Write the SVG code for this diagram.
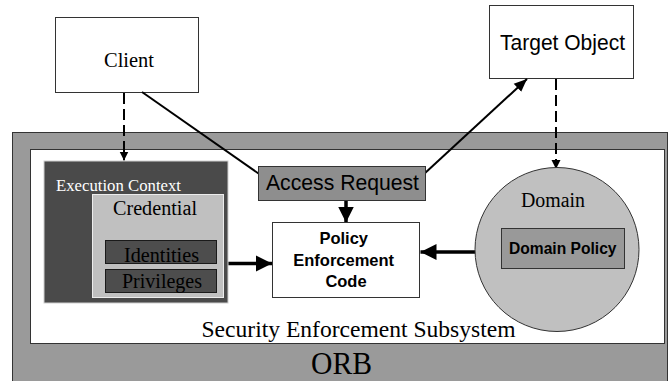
<svg xmlns="http://www.w3.org/2000/svg" width="668" height="381" viewBox="0 0 668 381">
  <style>
    .box { stroke: #333; stroke-width: 1; }
    .serif { font-family: "Liberation Serif", "Times New Roman", serif; }
    .sans { font-family: "Liberation Sans", Arial, sans-serif; }
    .bold { font-weight: bold; }
    .thin { stroke: #000; stroke-width: 2; fill: none; }
    .thick { stroke: #000; stroke-width: 3.5; fill: none; }
    .dash { stroke: #000; stroke-width: 2; fill: none; stroke-dasharray: 11 5; }
  </style>
  <defs>
    <marker id="headSmall" markerUnits="userSpaceOnUse" markerWidth="10" markerHeight="10" refX="9" refY="5" orient="auto">
      <path d="M0,0.5 L9,5 L0,9.5 Z" fill="#000"/>
    </marker>
    <marker id="headMid" markerUnits="userSpaceOnUse" markerWidth="14" markerHeight="12" refX="13" refY="6" orient="auto">
      <path d="M0,0.5 L13,6 L0,11.5 Z" fill="#000"/>
    </marker>
    <marker id="headBig" markerUnits="userSpaceOnUse" markerWidth="17" markerHeight="18" refX="16" refY="9" orient="auto">
      <path d="M0,1 L16,9 L0,17 Z" fill="#000"/>
    </marker>
  </defs>

  <rect width="668" height="381" fill="#fff"/>

  <!-- ORB layer -->
  <g id="orb">
    <rect x="12.5" y="132.5" width="655" height="250" fill="#9a9a9a" class="box"/>
    <text x="311" y="374" class="serif" font-size="31" textLength="61" lengthAdjust="spacingAndGlyphs" fill="#000">ORB</text>
  </g>

  <!-- Security Enforcement Subsystem -->
  <g id="subsystem">
    <rect x="30.5" y="149.5" width="634" height="194" fill="#fff" class="box"/>
    <text x="201.5" y="336.5" class="serif" font-size="24" textLength="314" lengthAdjust="spacingAndGlyphs" fill="#000">Security Enforcement Subsystem</text>
  </g>

  <!-- Client -->
  <g id="client">
    <rect x="55.5" y="17.5" width="143" height="75" fill="#fff" class="box"/>
    <text x="104" y="67" class="serif" font-size="20.5" textLength="50" lengthAdjust="spacingAndGlyphs" fill="#000">Client</text>
  </g>

  <!-- Target Object -->
  <g id="target">
    <rect x="489.5" y="5.5" width="144" height="73" fill="#fff" class="box"/>
    <text x="500" y="49.5" class="sans" font-size="22" textLength="125" lengthAdjust="spacingAndGlyphs" fill="#000">Target Object</text>
  </g>

  <!-- Connectors -->
  <g id="connectors">
    <line x1="124" y1="93" x2="124" y2="160.5" class="dash" marker-end="url(#headSmall)"/>
    <line x1="556" y1="79" x2="556" y2="169" class="dash" marker-end="url(#headSmall)"/>
    <line x1="142" y1="92" x2="262" y2="176" class="thin"/>
    <line x1="424" y1="174" x2="527" y2="79" class="thin" marker-end="url(#headMid)"/>
    <line x1="346" y1="201" x2="346" y2="222.5" class="thick" marker-end="url(#headBig)"/>
    <line x1="217" y1="263.5" x2="272" y2="263.5" class="thick" marker-end="url(#headBig)"/>
    <line x1="501" y1="252" x2="420.5" y2="252" class="thick" marker-end="url(#headBig)"/>
  </g>

  <!-- Execution Context -->
  <g id="execution-context">
    <rect x="44" y="161" width="184" height="142" fill="#4a4a4a" stroke="#cfcfcf" stroke-width="1"/>
    <text x="56" y="190.5" class="serif" font-size="17.5" textLength="125" lengthAdjust="spacingAndGlyphs" fill="#fff">Execution Context</text>
  </g>

  <!-- Credential -->
  <g id="credential">
    <rect x="92.5" y="194.5" width="131" height="103" fill="#c0c0c0" stroke="#ececec" stroke-width="1"/>
    <text x="113" y="215" class="serif" font-size="20.5" textLength="84" lengthAdjust="spacingAndGlyphs" fill="#000">Credential</text>
  </g>

  <!-- Identities -->
  <g id="identities">
    <rect x="105.5" y="240.5" width="111" height="23" fill="#4d4d4d" stroke="#1a1a1a" stroke-width="1"/>
    <text x="124" y="262" class="serif" font-size="20.5" textLength="75" lengthAdjust="spacingAndGlyphs" fill="#000">Identities</text>
  </g>

  <!-- Privileges -->
  <g id="privileges">
    <rect x="105.5" y="269.5" width="111" height="23" fill="#4d4d4d" stroke="#1a1a1a" stroke-width="1"/>
    <text x="122" y="287.5" class="serif" font-size="20.5" textLength="80" lengthAdjust="spacingAndGlyphs" fill="#000">Privileges</text>
  </g>

  <!-- Access Request -->
  <g id="access-request">
    <rect x="258.5" y="166.5" width="167" height="34" fill="#8e8e8e" class="box"/>
    <text x="266" y="190" class="sans" font-size="22" textLength="153" lengthAdjust="spacingAndGlyphs" fill="#000">Access Request</text>
  </g>

  <!-- Policy Enforcement Code -->
  <g id="policy-enforcement">
    <rect x="272.5" y="222.5" width="147" height="75" fill="#fff" class="box"/>
    <text class="sans bold" font-size="16.5" text-anchor="middle" fill="#000">
      <tspan x="346" y="244">Policy</tspan>
      <tspan x="346" y="265.5">Enforcement</tspan>
      <tspan x="346" y="287">Code</tspan>
    </text>
  </g>

  <!-- Domain -->
  <g id="domain">
    <circle cx="557" cy="249.5" r="82" fill="#c0c0c0" stroke="#333" stroke-width="1"/>
    <text x="521" y="206.5" class="serif" font-size="20.5" textLength="64" lengthAdjust="spacingAndGlyphs" fill="#000">Domain</text>
  </g>

  <!-- Domain Policy -->
  <g id="domain-policy">
    <rect x="501.5" y="228.5" width="123" height="40" fill="#999" class="box"/>
    <text x="509" y="254" class="sans bold" font-size="16" textLength="107.5" lengthAdjust="spacingAndGlyphs" fill="#000">Domain Policy</text>
  </g>
</svg>
